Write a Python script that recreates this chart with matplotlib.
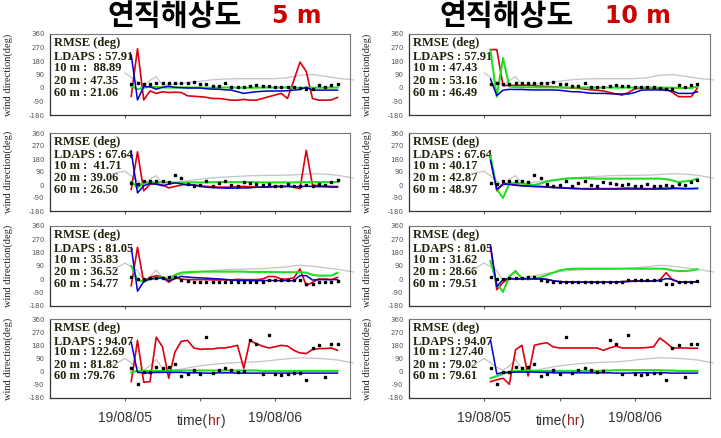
import numpy as np
import matplotlib
matplotlib.use('Agg')
import matplotlib.pyplot as plt

nan = np.nan

# ---------------- data ----------------
hours = list(range(13, 47))            # hourly model / obs times (hours from 19/08/04 12h)
ldaps_hours = [10, 12, 14, 15, 16, 17, 18, 20, 22, 24, 26, 28, 30, 32, 34, 36, 38, 40, 42, 44, 46, 48.5]
y_ticks = [-180, -90, 0, 90, 180, 270, 360]
x_ticks = [12, 24, 36]
x_tick_labels = ['19/08/05', '', '19/08/06']

obs_row1 = [30, 35, 27, 28, 32, 33, 32, 32, 34, 33, 38, 27, 29, 15, 16, 36, 10, 10, 10, 13, 20, 14, 14, 10, 10, 5, 5, -2, -8, -8, 20, 10, 20, 28]
obs_row2 = [12, 5, 26, 26, 31, 26, 20, 66, 50, 10, -5, 2, 31, -9, 14, 31, 2, -9, 19, 12, 5, 2, 7, -9, -5, 7, -9, -5, 2, -5, 7, 0, 19, 36]
obs_row3 = [13, 5, 2, 12, 7, 12, 13, 13, -5, -9, -20, -18, -16, -16, -20, -20, -20, -20, -20, -18, -16, -16, -2, -2, -2, -7, -7, -7, -31, -31, -16, -16, -16, -9]
obs_row4 = [23, -86, -5, 0, 32, 27, 32, 50, -30, -18, 9, -14, 237, -7, 9, 27, 9, 0, 5, 214, 191, -14, 250, -14, -23, -14, -7, -7, -59, 160, 182, -36, 191, 191]

ldaps_row1 = [nan, 100, 40, 20, 50, 76, 20, 25, 35, 45, 55, 60, 62, 62, 62, 62, 68, 85, 90, 78, 65, 54]
ldaps_row2 = [80, 95, 30, -10, 40, 65, 10, 20, 30, 40, 50, 55, 60, 64, 66, 67, 68, 72, 78, 75, 68, 48]
ldaps_row3 = [60, 110, 60, -10, 20, 62, 10, 25, 40, 52, 60, 65, 68, 70, 72, 78, 85, 95, 88, 78, 68, 50]
ldaps_row4 = [40, 90, 30, 10, 40, 85, 20, 10, 25, 40, 50, 58, 62, 66, 70, 80, 88, 95, 92, 88, 80, 60]

# vertical resolution 5 m
m10_5m_r1 = [-55, 262, -80, -20, -36, -25, -30, -28, -30, -52, -55, -58, -62, -70, -70, -75, -81, -81, -76, -81, -81, -70, -58, -47, -36, -70, 50, 173, 110, -70, -81, -81, -80, -63]
m20_5m_r1 = [12, -8, 2, 8, 6, 4, 3, 3, 4, 4, 3, 3, 2, 2, 2, 3, 3, 2, 2, 2, 2, 3, 3, 3, 3, 3, 2, 2, 2, 2, 2, 3, 3, 3]
m60_5m_r1 = [220, -80, 10, 8, -8, 5, 12, 4, 2, 0, 0, 0, -5, -8, -8, -12, -14, -25, -36, -30, -25, -22, -20, -20, -20, -18, -14, -10, 5, -14, -14, -14, -14, -14]

m10_5m_r2 = [-30, 230, -40, 5, 10, 0, -20, -10, 0, 5, 0, -5, -10, -12, -15, -15, -15, -10, -10, -12, -15, -15, -15, -12, -10, -10, -15, -25, 240, 0, -5, -8, -10, -10]
m20_5m_r2 = [25, -20, 15, 18, 18, 20, 18, 15, 15, 18, 18, 18, 18, 20, 20, 20, 20, 20, 20, 20, 20, 18, 18, 18, 18, 18, 18, 20, 20, 20, 20, 20, 20, 20]
m60_5m_r2 = [230, -55, -5, 10, 5, -5, 5, 15, 8, 0, 0, -10, -15, -18, -20, -22, -22, -22, -20, -20, -15, -15, -12, -10, -10, -10, -10, -12, -8, -10, -12, -12, -15, -15]

m10_5m_r3 = [-43, 216, -20, 13, 25, 15, -20, 10, 2, -2, -2, -2, -2, -4, -4, -4, -4, 0, -2, -2, -2, 2, 20, 18, 2, 2, 10, 70, -43, -20, 2, 2, -2, 13]
m20_5m_r3 = [90, -5, -15, 0, 10, 15, 0, 30, 45, 48, 50, 52, 52, 52, 52, 52, 52, 52, 52, 50, 50, 50, 50, 50, 48, 48, 48, 48, 45, 30, 25, 25, 25, 45]
m60_5m_r3 = [215, -80, -15, 5, 5, 10, -10, 5, 20, 15, 12, 10, 8, 5, 3, 0, -5, -8, -8, -8, -10, -8, -8, -8, -9, -9, -9, 25, 25, -5, -2, -2, -2, -2]

m10_5m_r4 = [-68, 214, -72, -68, 236, 169, -45, 135, 207, 214, 162, 153, 155, 155, 162, 162, 170, 180, 23, 214, 191, 175, 162, 170, 180, 175, 146, 128, 124, 151, 158, 158, 162, 146]
m20_5m_r4 = [-5, 5, 5, 5, 5, 5, 5, 8, 8, 8, 8, 8, 8, 8, 8, 8, 8, 8, 8, 8, 8, 5, 5, 5, 5, 5, 5, 5, 5, 5, 5, 5, 5, 5]
m60_5m_r4 = [200, -5, -8, -8, -5, -5, -5, -5, -5, -8, -8, -8, -10, -10, -8, -8, -8, -10, -10, -10, -10, -10, -10, -10, -10, -10, -10, -10, -10, -10, -10, -10, -10, -10]

# vertical resolution 10 m
m10_10m_r1 = [256, 256, 15, 18, 18, 18, 18, 15, 12, 10, 8, 5, 2, 0, -2, -8, -12, -15, -20, -30, -40, -47, -30, -5, -2, -2, -2, -5, -5, -30, -58, -58, -58, 0]
m20_10m_r1 = [250, -58, 200, 10, 6, 5, 5, 5, 4, 4, 4, 4, 3, 3, 3, 3, 3, 3, 3, 3, 3, 3, 3, 3, 3, 3, 3, 2, 2, 2, 0, 0, 0, 10]
m60_10m_r1 = [60, -50, -15, -9, -10, -10, -12, -13, -13, -13, -13, -15, -20, -25, -25, -30, -35, -36, -36, -38, -40, -40, -40, -30, -15, -13, -13, -13, -15, -20, -36, -36, -36, -25]

m10_10m_r2 = [180, -40, 10, 5, -2, -5, -8, -10, -10, -12, -15, -18, -20, -22, -25, -25, -25, -25, -25, -25, -25, -22, -20, -22, -25, -25, -25, -22, -22, -20, -22, -25, -25, -22]
m20_10m_r2 = [200, -30, -90, 10, 15, 10, 5, 0, 10, 25, 32, 38, 44, 46, 48, 48, 46, 44, 44, 44, 44, 44, 44, 44, 44, 44, 44, 44, 40, 32, 20, 25, 30, 44]
m60_10m_r2 = [170, -30, 5, 5, 0, -5, -8, -10, -12, -15, -18, -20, -22, -25, -25, -28, -28, -28, -28, -28, -28, -28, -28, -28, -28, -28, -28, -28, -28, -25, -25, -25, -25, -25]

m10_10m_r3 = [220, -70, -20, 5, 3, 3, 3, 3, 3, 0, -10, -15, -18, -18, -18, -18, -18, -18, -18, -18, -18, -15, -12, -10, -10, -10, -11, -5, 45, -5, -18, -18, -18, -18]
m20_10m_r3 = [124, -30, -85, 20, 55, 5, 0, 5, 15, 30, 45, 60, 68, 70, 72, 72, 72, 72, 72, 72, 72, 72, 72, 72, 72, 72, 72, 72, 70, 60, 56, 56, 60, 68]
m60_10m_r3 = [225, -50, 0, 5, 3, 3, 3, 3, 3, 0, -10, -15, -18, -18, -18, -20, -20, -20, -20, -18, -18, -18, -15, -12, -12, -12, -12, -8, 5, 0, -18, -18, -18, -15]

m10_10m_r4 = [-68, -56, -45, -86, 150, 180, -30, 180, 191, 198, 169, 162, 162, 162, 162, 162, 162, 162, 146, 162, 175, 162, 162, 162, 162, 165, 170, 230, 198, 162, 162, 162, 160, 160]
m20_10m_r4 = [-45, -30, -15, 0, 3, 5, 5, 5, 5, 5, 5, 5, 5, 5, 5, 5, 5, 5, 8, 8, 10, 10, 10, 10, 10, 10, 10, 10, 8, 8, 5, 5, 5, 5]
m60_10m_r4 = [215, -15, -5, -5, -3, -3, -3, -3, -5, -5, -8, -8, -8, -8, -8, -8, -8, -8, -8, -8, -10, -10, -10, -8, -8, -8, -8, -8, -8, -10, -10, -10, -10, -10]

rmse_5m = [
    ["RMSE (deg)", "LDAPS : 57.91", "10 m :  88.89", "20 m : 47.35", "60 m : 21.06"],
    ["RMSE (deg)", "LDAPS : 67.64", "10 m :  41.71", "20 m : 39.06", "60 m : 26.50"],
    ["RMSE (deg)", "LDAPS : 81.05", "10 m : 35.83", "20 m : 36.52", "60 m : 54.77"],
    ["RMSE (deg)", "LDAPS : 94.07", "10 m : 122.69", "20 m : 81.82", "60 m :79.76"],
]
rmse_10m = [
    ["RMSE (deg)", "LDAPS : 57.91", "10 m : 47.43", "20 m : 53.16", "60 m : 46.49"],
    ["RMSE (deg)", "LDAPS : 67.64", "10 m : 40.17", "20 m : 42.87", "60 m : 48.97"],
    ["RMSE (deg)", "LDAPS : 81.05", "10 m : 31.62", "20 m : 28.66", "60 m : 79.51"],
    ["RMSE (deg)", "LDAPS : 94.07", "10 m : 127.40", "20 m : 79.02", "60 m : 79.61"],
]

obs_rows = [obs_row1, obs_row2, obs_row3, obs_row4]
ldaps_rows = [ldaps_row1, ldaps_row2, ldaps_row3, ldaps_row4]
models = {
    0: [(m10_5m_r1, m20_5m_r1, m60_5m_r1), (m10_5m_r2, m20_5m_r2, m60_5m_r2),
        (m10_5m_r3, m20_5m_r3, m60_5m_r3), (m10_5m_r4, m20_5m_r4, m60_5m_r4)],
    1: [(m10_10m_r1, m20_10m_r1, m60_10m_r1), (m10_10m_r2, m20_10m_r2, m60_10m_r2),
        (m10_10m_r3, m20_10m_r3, m60_10m_r3), (m10_10m_r4, m20_10m_r4, m60_10m_r4)],
}
rmse_text = {0: rmse_5m, 1: rmse_10m}

# ---------------- figure ----------------
W, H = 721, 438
fig = plt.figure(figsize=(W / 100, H / 100), dpi=100)
fig.patch.set_facecolor('white')

col_x = [(50, 300), (409, 301)]
row_y = [(34, 115), (133, 211), (226, 306), (319, 398)]

RED = '#dd0011'
GREEN = '#22dd22'
BLUE = '#0000cc'
GRAY = '#c4c4c4'
TXT = '#22220c'
text_y = [0.885, 0.712, 0.577, 0.423, 0.275]

for c in range(2):
    x0, w = col_x[c]
    for r in range(4):
        yt, yb = row_y[r]
        ax = fig.add_axes([x0 / W, 1 - yb / H, w / W, (yb - yt) / H])
        m10, m20, m60 = models[c][r]
        ax.plot(ldaps_hours, ldaps_rows[r], color=GRAY, lw=0.9, zorder=2, clip_on=False)
        ax.plot(hours, m10, color=RED, lw=1.2, zorder=3)
        ax.plot(hours, m20, color=GREEN, lw=1.5, zorder=4)
        ax.plot(hours, m60, color=BLUE, lw=1.1, zorder=5)
        ax.plot(hours, obs_rows[r], ls='none', marker='s', ms=1.7, color='black', zorder=6)
        ax.set_xlim(0, 48)
        ax.set_ylim(-180, 360)
        ax.set_yticks(y_ticks)
        ax.set_yticklabels([str(v) for v in y_ticks])
        ax.set_xticks(x_ticks)
        if r == 3:
            ax.set_xticklabels(x_tick_labels, fontsize=10, color='#333333',
                               family='Liberation Sans')
        else:
            ax.set_xticklabels([])
        ax.tick_params(axis='y', length=0, pad=4, labelsize=5, labelcolor='#555555')
        ax.tick_params(axis='x', length=2, direction='out', pad=7, color='#666666')
        for s in ['left', 'bottom']:
            ax.spines[s].set_color('#333333')
            ax.spines[s].set_linewidth(0.9)
        for s in ['top', 'right']:
            ax.spines[s].set_color('#777777')
            ax.spines[s].set_linewidth(0.8)
        ax.set_ylabel('wind direction(deg)', family='Liberation Serif', fontsize=7.5,
                      color='#222222')
        ax.yaxis.set_label_coords(-0.123, 0.5)
        for k, line in enumerate(rmse_text[c][r]):
            ax.text(0.012, text_y[k], line, transform=ax.transAxes, ha='left', va='center',
                    family='Liberation Serif', fontweight='bold', fontsize=9,
                    color=TXT, zorder=1)
        if r == 3:
            cx = x0 + 127
            t1 = fig.text(cx / W, 1 - 425 / H, 'time(', ha='left', va='baseline',
                          fontsize=10, family='Liberation Sans', color='#333333')
            t2 = ax.annotate('hr', xy=(1, 0), xycoords=t1, ha='left', va='bottom',
                             fontsize=10, family='Liberation Sans', color='#992222',
                             annotation_clip=False)
            ax.annotate(')', xy=(1, 0), xycoords=t2, ha='left', va='bottom',
                        fontsize=10, family='Liberation Sans', color='#333333',
                        annotation_clip=False)

title_font = ['Noto Sans CJK KR', 'DejaVu Sans']
fig.text(108 / W, 1 - 16 / H, '연직해상도', ha='left', va='center', fontsize=21,
         fontweight='bold', family=title_font, color='black')
fig.text(272 / W, 1 - 16 / H, '5 m', ha='left', va='center', fontsize=17,
         fontweight='bold', family='DejaVu Sans', color='#cc0000')
fig.text(440 / W, 1 - 16 / H, '연직해상도', ha='left', va='center', fontsize=21,
         fontweight='bold', family=title_font, color='black')
fig.text(605 / W, 1 - 16 / H, '10 m', ha='left', va='center', fontsize=17,
         fontweight='bold', family='DejaVu Sans', color='#cc0000')

fig.savefig('out.png', dpi=100, facecolor='white')
